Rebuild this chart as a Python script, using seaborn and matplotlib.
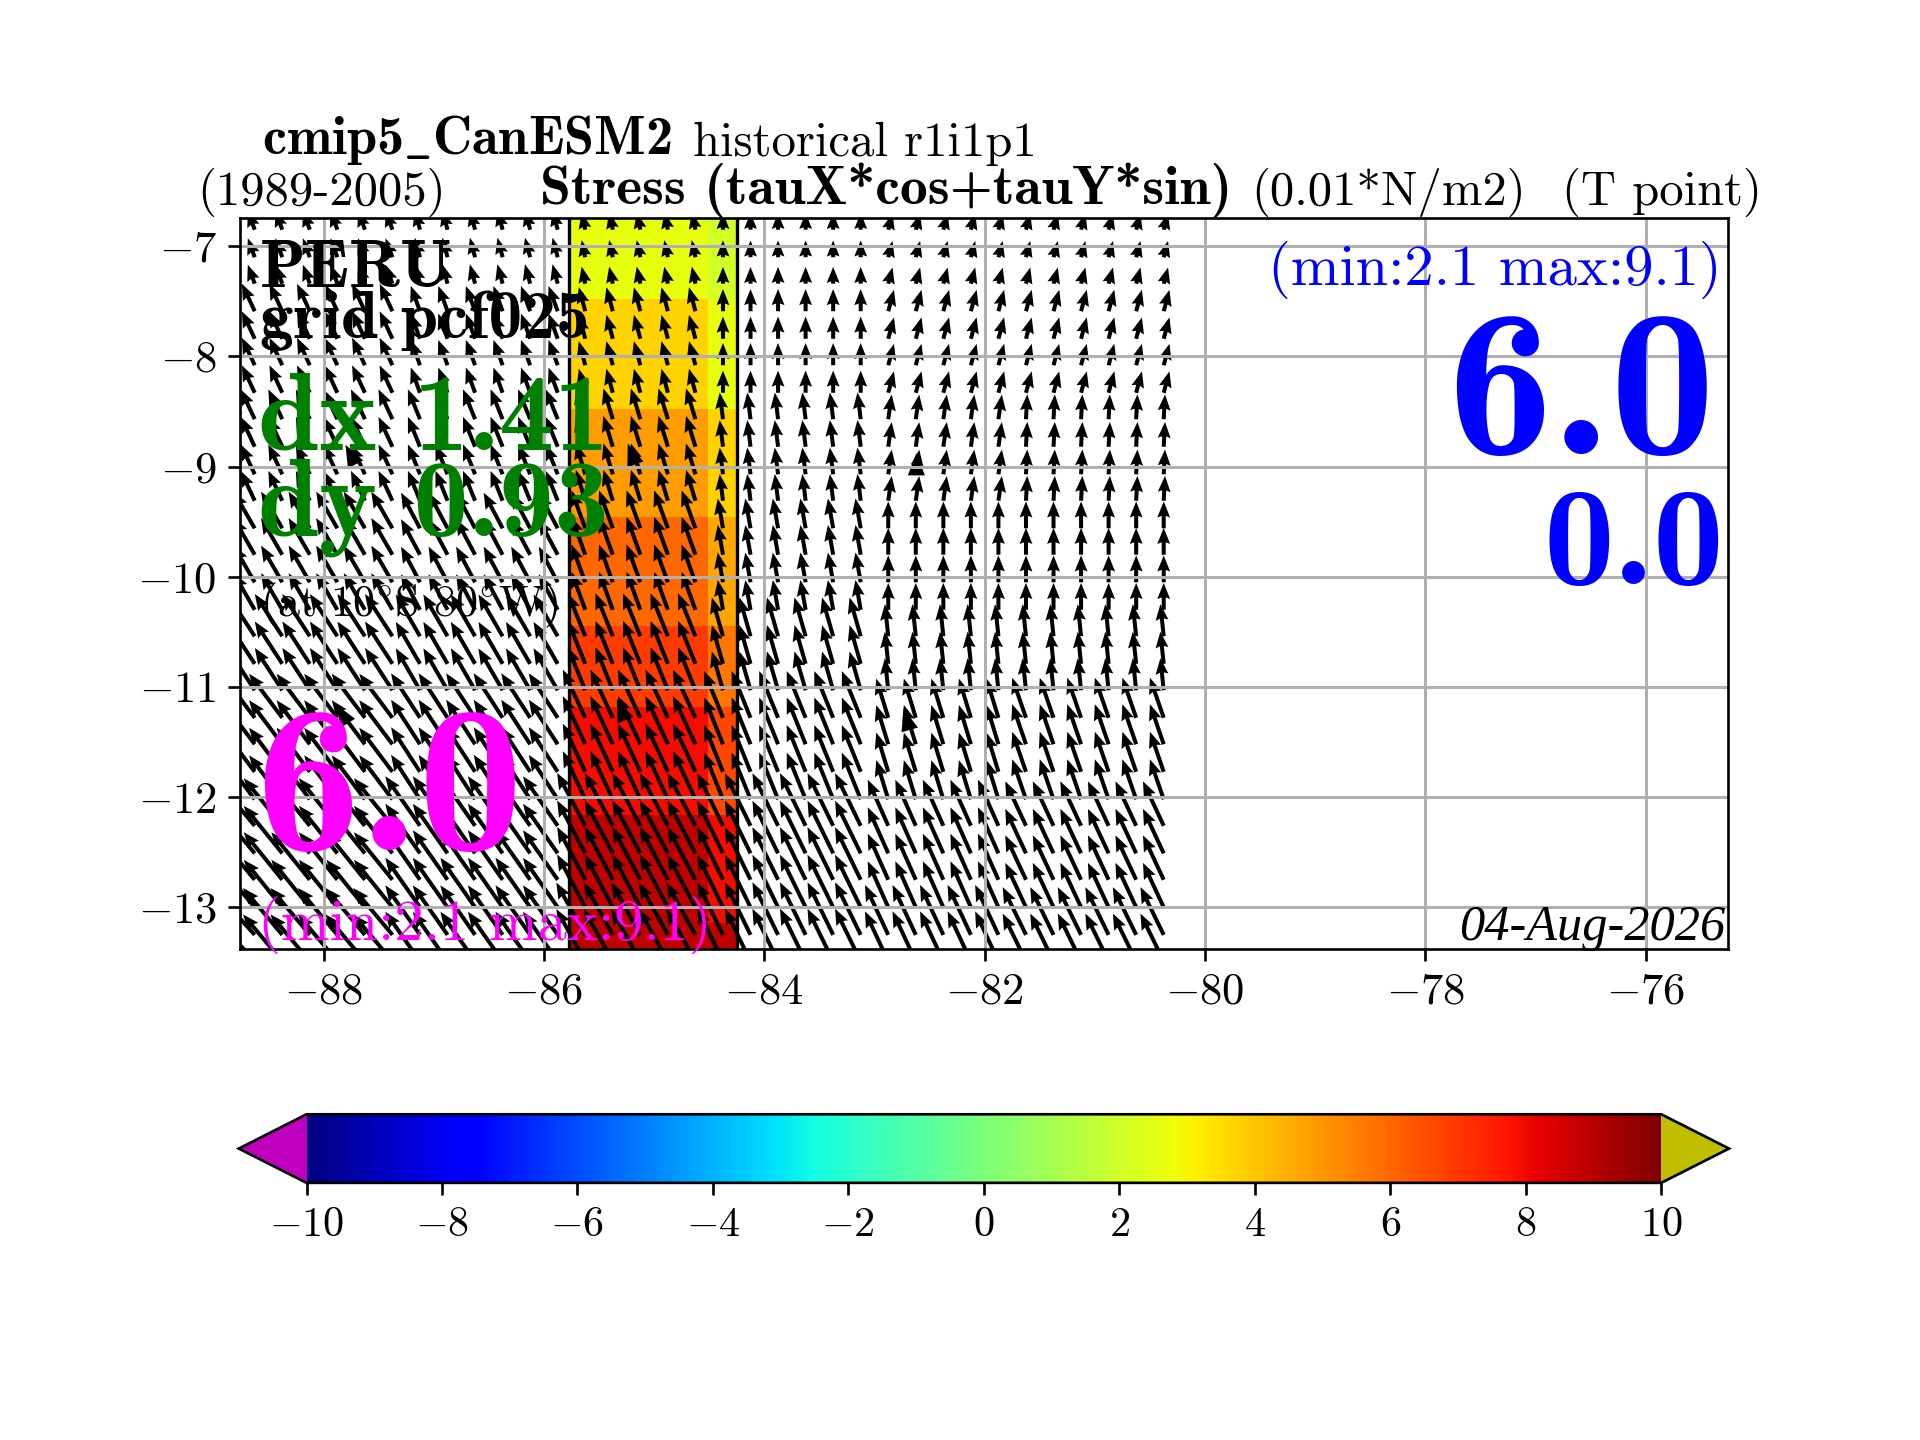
import numpy as np
import matplotlib
matplotlib.use("Agg")
import matplotlib.pyplot as plt
import seaborn as sns

# ---- data -------------------------------------------------------------
scalar_lon_edges = [-85.77, -84.51, -84.25]
scalar_lat_edges = [-6.744, -7.48, -8.48, -9.46, -10.45, -11.18, -12.16, -13.14, -13.378]
stress_west_col = [2.64, 3.72, 4.86, 5.96, 6.93, 7.9, 8.9, 8.9]
stress_east_col = [2.1, 2.64, 3.72, 4.64, 5.66, 6.68, 7.9, 8.9]

arrow_lons = [-88.875, -88.625, -88.375, -88.125, -87.875, -87.625, -87.375, -87.125, -86.875,
              -86.625, -86.375, -86.125, -85.875, -85.625, -85.375, -85.125, -84.875, -84.625,
              -84.375, -84.125, -83.875, -83.625, -83.375, -83.125, -82.875, -82.625, -82.375,
              -82.125, -81.875, -81.625, -81.375, -81.125, -80.875, -80.625, -80.375]
arrow_lats = [-6.85, -7.10, -7.34, -7.59, -7.84, -8.08, -8.33, -8.57, -8.82, -9.07, -9.31, -9.56,
              -9.80, -10.05, -10.30, -10.54, -10.79, -11.03, -11.28, -11.52, -11.77, -12.02,
              -12.26, -12.51, -12.75, -13.00, -13.25, -13.49]
block_lon_edges = [-90.0, -88.625, -87.25, -85.75, -84.5, -83.0, -81.75, -80.0]

# speed (0.01 N/m2) per coarse block: rows = latitude bands, columns = longitude blocks
speed_band0 = [3.0, 3.0, 3.0, 2.6, 2.5, 2.5, 2.5]
speed_band1 = [4.5, 4.5, 4.0, 3.7, 3.3, 3.3, 3.3]
speed_band2 = [4.9, 4.9, 4.8, 4.8, 4.0, 3.7, 3.7]
speed_band3 = [6.3, 6.3, 6.0, 6.0, 4.5, 4.0, 4.0]
speed_band4 = [7.5, 7.5, 7.2, 6.9, 6.0, 4.8, 4.8]
speed_band5 = [8.2, 8.2, 7.9, 7.9, 7.5, 6.1, 6.3]
speed_band6 = [9.1, 9.1, 9.0, 8.9, 8.7, 7.5, 7.3]
speed_band7 = [9.1, 9.1, 9.0, 8.9, 8.7, 8.2, 7.9]
# direction, degrees west of north
west_band0 = [20, 20, 15, 12, 0, -15, -15]
west_band1 = [25, 25, 20, 15, 0, -15, -15]
west_band2 = [25, 25, 22, 17, 7, -8, -3]
west_band3 = [30, 30, 28, 20, 10, 0, 0]
west_band4 = [33, 33, 30, 22, 16, 6, 6]
west_band5 = [37, 37, 33, 25, 22, 17, 19]
west_band6 = [40, 39, 35, 28, 26, 24, 25]
west_band7 = [42, 40, 35, 29, 26, 25, 26]

raw_lons = [-87.71, -85.17, -82.62, -87.78, -85.26, -82.68]
raw_lats = [-8.98, -8.98, -9.08, -11.33, -11.30, -11.39]
raw_speed = [3.3, 3.3, 3.3, 3.3, 3.3, 3.3]
raw_west = [27, 20, 0, 32, 23, 16]

x_ticks = [-88, -86, -84, -82, -80, -78, -76]
y_ticks = [-7, -8, -9, -10, -11, -12, -13]
cbar_ticks = [-10, -8, -6, -4, -2, 0, 2, 4, 6, 8, 10]

# ---- style ------------------------------------------------------------
sns.set_style("ticks", {"axes.edgecolor": "black", "xtick.color": "black", "ytick.color": "black",
                        "text.color": "black", "axes.labelcolor": "black"})
plt.rcParams["font.family"] = ["cmr10"]
plt.rcParams["mathtext.fontset"] = "cm"
plt.rcParams["axes.formatter.use_mathtext"] = True

W, H = 1568.0, 1176.0  # coordinates used for text placement
fig = plt.figure(figsize=(8, 6), dpi=240)
ax = fig.add_axes([0.125, 0.341, 0.775, 0.5076])

cmap = matplotlib.colormaps["jet"].copy()
cmap.set_under((0.75, 0, 0.75))
cmap.set_over((0.75, 0.75, 0))

values = np.array([stress_west_col, stress_east_col]).T
mesh = ax.pcolormesh(scalar_lon_edges, scalar_lat_edges, values, cmap=cmap, vmin=-10, vmax=10, zorder=1)
for edge in (scalar_lon_edges[0], scalar_lon_edges[-1]):
    ax.axvline(edge, color="black", lw=1.0, zorder=1.5)

speed = np.array([speed_band0, speed_band1, speed_band2, speed_band3,
                  speed_band4, speed_band5, speed_band6, speed_band7])
west = np.radians([west_band0, west_band1, west_band2, west_band3,
                   west_band4, west_band5, west_band6, west_band7])
lat_edges_desc = np.array(scalar_lat_edges[1:-1])
xg, yg = np.meshgrid(arrow_lons, arrow_lats)
i_lat = np.searchsorted(-lat_edges_desc, -yg)
i_lon = np.searchsorted(block_lon_edges, xg) - 1
u = -speed[i_lat, i_lon] * np.sin(west[i_lat, i_lon])
v = speed[i_lat, i_lon] * np.cos(west[i_lat, i_lon])
ax.quiver(xg, yg, u, v, angles="xy", scale_units="xy", scale=16.4, width=0.0027,
          headwidth=3.2, headlength=4, headaxislength=3.6, color="black", zorder=2)
rs, rw = np.array(raw_speed), np.radians(raw_west)
ax.quiver(raw_lons, raw_lats, -rs * np.sin(rw), rs * np.cos(rw), angles="xy", scale_units="xy",
          scale=16.4, width=0.0035, headwidth=3.4, headlength=4.4, headaxislength=4.4, color="black", zorder=2)

ax.set_xlim(-88.756, -75.256)
ax.set_ylim(-13.378, -6.744)
ax.set_aspect("equal", adjustable="box", anchor="C")
ax.set_xticks(x_ticks)
ax.set_yticks(y_ticks)
ax.set_xticklabels([f"$\\mathrm{{{t}}}$" for t in x_ticks], fontsize=13.4)
ax.set_yticklabels([f"$\\mathrm{{{t}}}$" for t in y_ticks], fontsize=13.4)
ax.grid(True, color="#b0b0b0", lw=0.9)
ax.set_axisbelow(False)
for s in ax.spines.values():
    s.set_zorder(6)
    s.set_visible(True)


def put(x, y, s, size, color="black", family="cmr10", ha="left", **kw):
    fig.text(x / W, 1 - y / H, s, fontsize=size, color=color, family=family, ha=ha, va="baseline", zorder=10, **kw)


put(214, 126, r"cmip5$\_$CanESM2", 16.3, family="cmb10")
put(566, 127, "historical r1i1p1", 14.6)
put(161, 167, "(1989-2005)", 14.6)
put(441, 167, "Stress (tauX*cos+tauY*sin)", 16.7, family="cmb10")
put(1022, 167, "(0.01*N/m2)", 14.6)
put(1276, 167, "(T point)", 14.6)

put(212, 234, "PERU", 20.2, family="cmb10")
put(212, 276, "grid pcf025", 20.2, family="cmb10")
put(211, 367, "dx 1.41", 33, color="green", family="cmb10")
put(211, 437, "dy 0.93", 33, color="green", family="cmb10")
put(212, 503, r"(at 10$^{\circ}$S 80$^{\circ}$W)", 13.2)
put(208, 694, "6.0", 63, color="magenta", family="cmb10")
put(211, 768, "(min:2.1 max:9.1)", 17.6, color="magenta")

put(1406, 233, "(min:2.1 max:9.1)", 17.6, color="blue", ha="right")
put(1401, 371, "6.0", 63, color="blue", family="cmb10", ha="right")
put(1408, 477, "0.0", 42.5, color="blue", family="cmb10", ha="right")
put(1409, 768, "04-Aug-2026", 15.1, family="Liberation Serif", ha="right", style="italic")

cax = fig.add_axes([195 / W, 1 - 966 / H, (1412 - 195) / W, 56 / H])
cb = fig.colorbar(mesh, cax=cax, orientation="horizontal", extend="both", ticks=cbar_ticks)
cb.ax.set_xticklabels([f"$\\mathrm{{{t}}}$" for t in cbar_ticks], fontsize=12.7)
cb.outline.set_edgecolor("black")

fig.savefig("out.png", dpi=240, facecolor="white")
